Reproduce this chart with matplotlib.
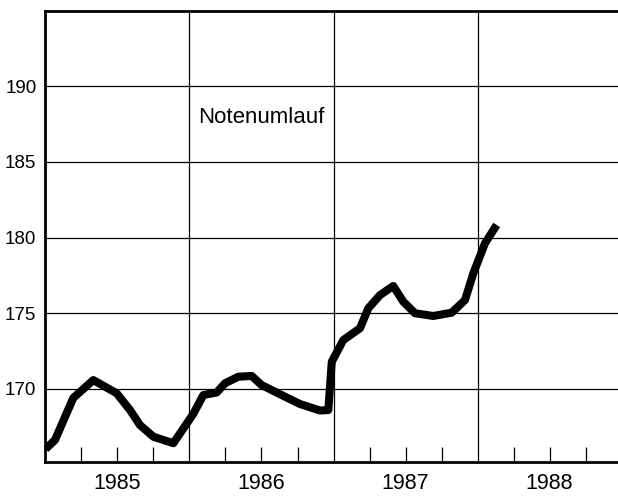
import numpy as np
import matplotlib
matplotlib.use("Agg")
import matplotlib.pyplot as plt

# =========================
# Daten
# =========================
zeit = [1985.000, 1985.066, 1985.193, 1985.332, 1985.494, 1985.587, 1985.656,
        1985.749, 1985.888, 1986.026, 1986.096, 1986.189, 1986.247, 1986.339,
        1986.432, 1986.501, 1986.663, 1986.767, 1986.906, 1986.964, 1986.988,
        1987.068, 1987.184, 1987.242, 1987.323, 1987.415, 1987.485, 1987.566,
        1987.693, 1987.821, 1987.913, 1987.971, 1988.052, 1988.133]
notenumlauf = [166.04, 166.63, 169.41, 170.59, 169.72, 168.61, 167.62,
               166.85, 166.42, 168.35, 169.60, 169.77, 170.38, 170.81,
               170.86, 170.26, 169.49, 169.01, 168.58, 168.61, 171.80,
               173.23, 174.01, 175.33, 176.20, 176.80, 175.76, 175.00,
               174.82, 175.04, 175.87, 177.64, 179.62, 180.83]

jahre = [1985, 1986, 1987, 1988]
y_ticks = [170, 175, 180, 185, 190]

plt.rcParams['font.family'] = ['Liberation Sans', 'DejaVu Sans']

fig = plt.figure(figsize=(6.18, 4.97), dpi=100)
ax = fig.add_axes([0.0736, 0.0704, 0.9321, 0.9074])

ax.set_xlim(1985, 1989)
ax.set_ylim(165.18, 194.95)

# Gitter
for y in y_ticks:
    ax.axhline(y, color='black', lw=0.9, zorder=1)
for j in jahre[1:]:
    ax.axvline(j, color='black', lw=0.9, zorder=1)

ax.plot(zeit, notenumlauf, color='black', lw=5.8,
        solid_joinstyle='round', solid_capstyle='butt', zorder=3)

ax.text(1986.06, 187.56, "Notenumlauf", fontsize=16, ha='left', va='baseline')

# Achsen
ax.set_yticks(y_ticks)
ax.tick_params(axis='y', length=0, pad=6.5, labelsize=13.5)

ax.set_xticks([j + 0.5 for j in jahre])
ax.set_xticklabels([str(j) for j in jahre])
ax.set_xticks([j + q for j in jahre for q in (0.25, 0.75)], minor=True)
ax.tick_params(axis='x', which='both', direction='in', length=10.8,
               width=0.9, pad=8, labelsize=15.5)

for s in ['left', 'top', 'bottom']:
    ax.spines[s].set_linewidth(2.0)
ax.spines['right'].set_visible(False)

fig.savefig("out.png", dpi=100)
